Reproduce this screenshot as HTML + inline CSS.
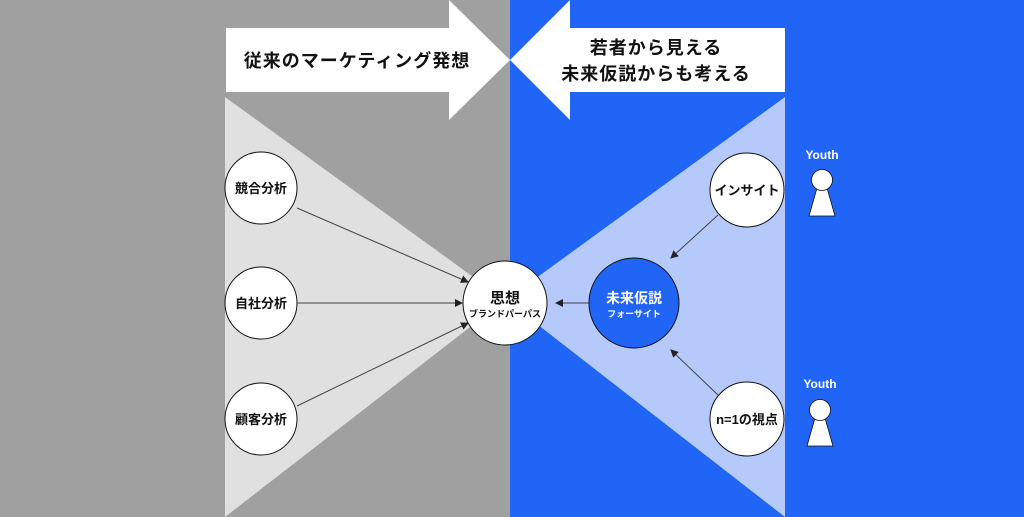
<!DOCTYPE html>
<html><head><meta charset="utf-8"><style>
body{margin:0;width:1024px;height:517px;overflow:hidden;background:#a0a0a0}
svg{display:block}
text{font-family:"Liberation Sans","Noto Sans CJK JP",sans-serif;font-weight:bold}
</style></head><body>
<svg width="1024" height="517" viewBox="0 0 1024 517">
<defs><marker id="a" markerWidth="8" markerHeight="8" refX="7" refY="4" orient="auto" markerUnits="userSpaceOnUse"><path d="M0,0 L8,4 L0,8 Z" fill="#222"/></marker></defs>
<rect x="0" y="0" width="510" height="517" fill="#a0a0a0"/>
<rect x="510" y="0" width="514" height="517" fill="#2065f5"/>
<polygon points="225,97 225,517 505,300" fill="#e0e0e0"/>
<polygon points="785,97 785,517 506,300" fill="#b5c9fb"/>
<polygon points="226,28 449,28 449,0 510,60 449,120 449,92 226,92" fill="#fff"/>
<polygon points="785,28 570,28 570,0 510,60 570,120 570,92 785,92" fill="#fff"/>
<text x="357" y="67" font-size="18" text-anchor="middle" fill="#111" letter-spacing="1">従来のマーケティング発想</text>
<text x="656" y="54" font-size="18" text-anchor="middle" fill="#111" letter-spacing="1">若者から見える</text>
<text x="656" y="80" font-size="18" text-anchor="middle" fill="#111" letter-spacing="1">未来仮説からも考える</text>
<g stroke="#444" stroke-width="1" marker-end="url(#a)">
<line x1="297" y1="208" x2="468" y2="282"/>
<line x1="297" y1="303" x2="462" y2="303"/>
<line x1="297" y1="406" x2="468" y2="323"/>
<line x1="589" y1="303" x2="556" y2="303"/>
<line x1="718" y1="215" x2="671" y2="258"/>
<line x1="718" y1="395" x2="671" y2="350"/>
</g>
<g stroke="#111" stroke-width="1" fill="#fff">
<circle cx="261" cy="188" r="36"/>
<circle cx="261" cy="303" r="36"/>
<circle cx="261" cy="419" r="36"/>
<circle cx="505" cy="303" r="42"/>
<circle cx="634" cy="303" r="45" fill="#2065f5"/>
<circle cx="747" cy="190" r="37"/>
<circle cx="747" cy="419" r="37"/>
</g>
<g font-size="13" text-anchor="middle" fill="#111">
<text x="261" y="193">競合分析</text>
<text x="261" y="308">自社分析</text>
<text x="261" y="424">顧客分析</text>
<text x="505" y="303" font-size="15">思想</text>
<text x="505" y="317" font-size="9">ブランドパーパス</text>
<text x="747" y="195">インサイト</text>
<text x="747" y="424">n=1の視点</text>
<text x="634" y="303" font-size="14" fill="#fff">未来仮説</text>
<text x="634" y="317" font-size="9" fill="#fff">フォーサイト</text>
<text x="822" y="159" font-size="12" fill="#fff">Youth</text>
<text x="820" y="388" font-size="12" fill="#fff">Youth</text>
</g>
<g fill="#fff" stroke="#111" stroke-width="0.8">
<polygon points="817,188 827,188 835,216 809,216"/>
<circle cx="822" cy="180" r="10.5"/>
<polygon points="815,418 825,418 833,446 807,446"/>
<circle cx="820" cy="410" r="10.5"/>
</g>
</svg>
</body></html>
